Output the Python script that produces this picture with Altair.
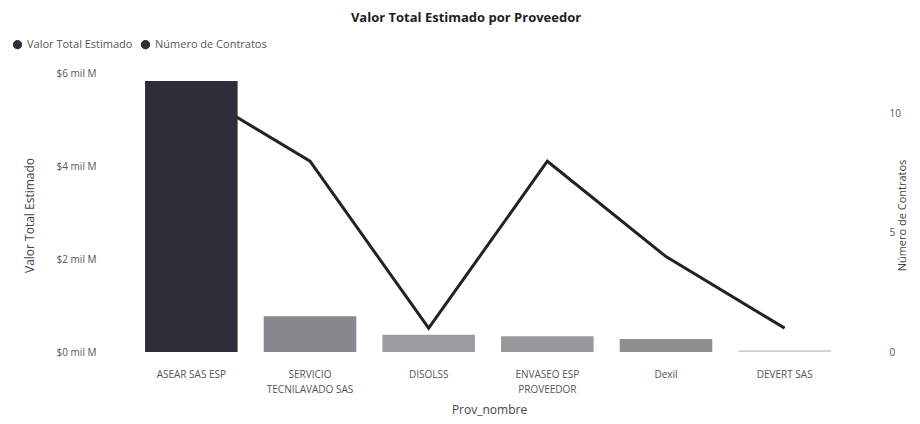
import altair as alt
import pandas as pd

proveedores = ["ASEAR SAS ESP", "SERVICIO TECNILAVADO SAS", "DISOLSS",
               "ENVASEO ESP PROVEEDOR", "Dexil", "DEVERT SAS"]
valor_total = [5.83, 0.77, 0.37, 0.34, 0.28, 0.04]   # mil M
num_contratos = [11, 8, 1, 8, 4, 1]
bar_colors = ["#2c2f39", "#87878d", "#9b9b9d", "#98989a", "#8e8e90", "#cfcfd2"]
label_lines = {
    "SERVICIO TECNILAVADO SAS": ["SERVICIO", "TECNILAVADO SAS"],
    "ENVASEO ESP PROVEEDOR": ["ENVASEO ESP", "PROVEEDOR"],
}

df = pd.DataFrame({
    "Prov_nombre": proveedores,
    "valor": valor_total,
    "contratos": num_contratos,
    "serie": ["Número de Contratos"] * len(proveedores),
})

expr = "datum.label"
for k, v in label_lines.items():
    expr = f"datum.label == '{k}' ? ['{v[0]}', '{v[1]}'] : (" + expr + ")"

FONT = "Open Sans"

x = alt.X("Prov_nombre:N", sort=proveedores,
          scale=alt.Scale(paddingInner=0.22, paddingOuter=0.11),
          axis=alt.Axis(title="Prov_nombre", labelAngle=0, labelExpr=expr,
                        labelPadding=17, labelLineHeight=15, labelFontSize=10,
                        labelColor="#555", domain=False, ticks=False,
                        titleFontSize=12, titleFontWeight="normal", titleColor="#444",
                        titleX=357, titleY=52, titleFont=FONT, labelFont=FONT))

bars = alt.Chart(df).mark_bar().encode(
    x=x,
    y=alt.Y("valor:Q", scale=alt.Scale(domain=[0, 6]),
            axis=alt.Axis(title="Valor Total Estimado", values=[0, 2, 4, 6],
                          labelExpr="'$' + datum.value + ' mil M'",
                          grid=False, domain=False, ticks=False,
                          labelPadding=36, labelFontSize=10, labelColor="#555",
                          titleFontSize=12, titleColor="#444", titleFontWeight="normal",
                          titleX=-96, titleY=142, titleFont=FONT, labelFont=FONT)),
    fill=alt.Fill("Prov_nombre:N", scale=alt.Scale(domain=proveedores, range=bar_colors),
                  legend=None),
)

line = alt.Chart(df).mark_line(strokeWidth=3).encode(
    x=x,
    y=alt.Y("contratos:Q", scale=alt.Scale(domain=[0, 11.7], nice=False),
            axis=alt.Axis(title="Número de Contratos", orient="right", values=[0, 5, 10],
                          grid=False, domain=False, ticks=False, offset=37,
                          labelPadding=8, labelAlign="left", labelFontSize=10,
                          labelColor="#555",
                          titleFontSize=11, titleColor="#444", titleFontWeight="normal",
                          titleAngle=270, titleX=26, titleY=142,
                          titleFont=FONT, labelFont=FONT)),
    stroke=alt.Stroke("serie:N",
                      scale=alt.Scale(domain=["Valor Total Estimado", "Número de Contratos"],
                                      range=["#2c2f39", "#222222"]),
                      legend=alt.Legend(title=None, orient="none", direction="horizontal",
                                        legendX=-120, legendY=-34,
                                        symbolType="circle", symbolSize=70,
                                        symbolFillColor="#2c2f39", symbolStrokeWidth=1,
                                        labelFontSize=11, labelColor="#555", labelFont=FONT,
                                        columnPadding=6, symbolOffset=0)),
)

chart = alt.layer(line, bars).resolve_scale(y="independent").properties(
    width=712, height=279,
    autosize=alt.AutoSizeParams(type="none"),
    padding={"left": 124, "top": 65, "right": 68, "bottom": 70},
    title=alt.Title("Valor Total Estimado por Proveedor", fontSize=13, fontWeight="bold",
                    font=FONT, color="#222", anchor="middle", offset=14, dx=-22),
).configure_view(stroke=None)

chart.save("out.html", embed_options={"renderer": "svg", "actions": False})
